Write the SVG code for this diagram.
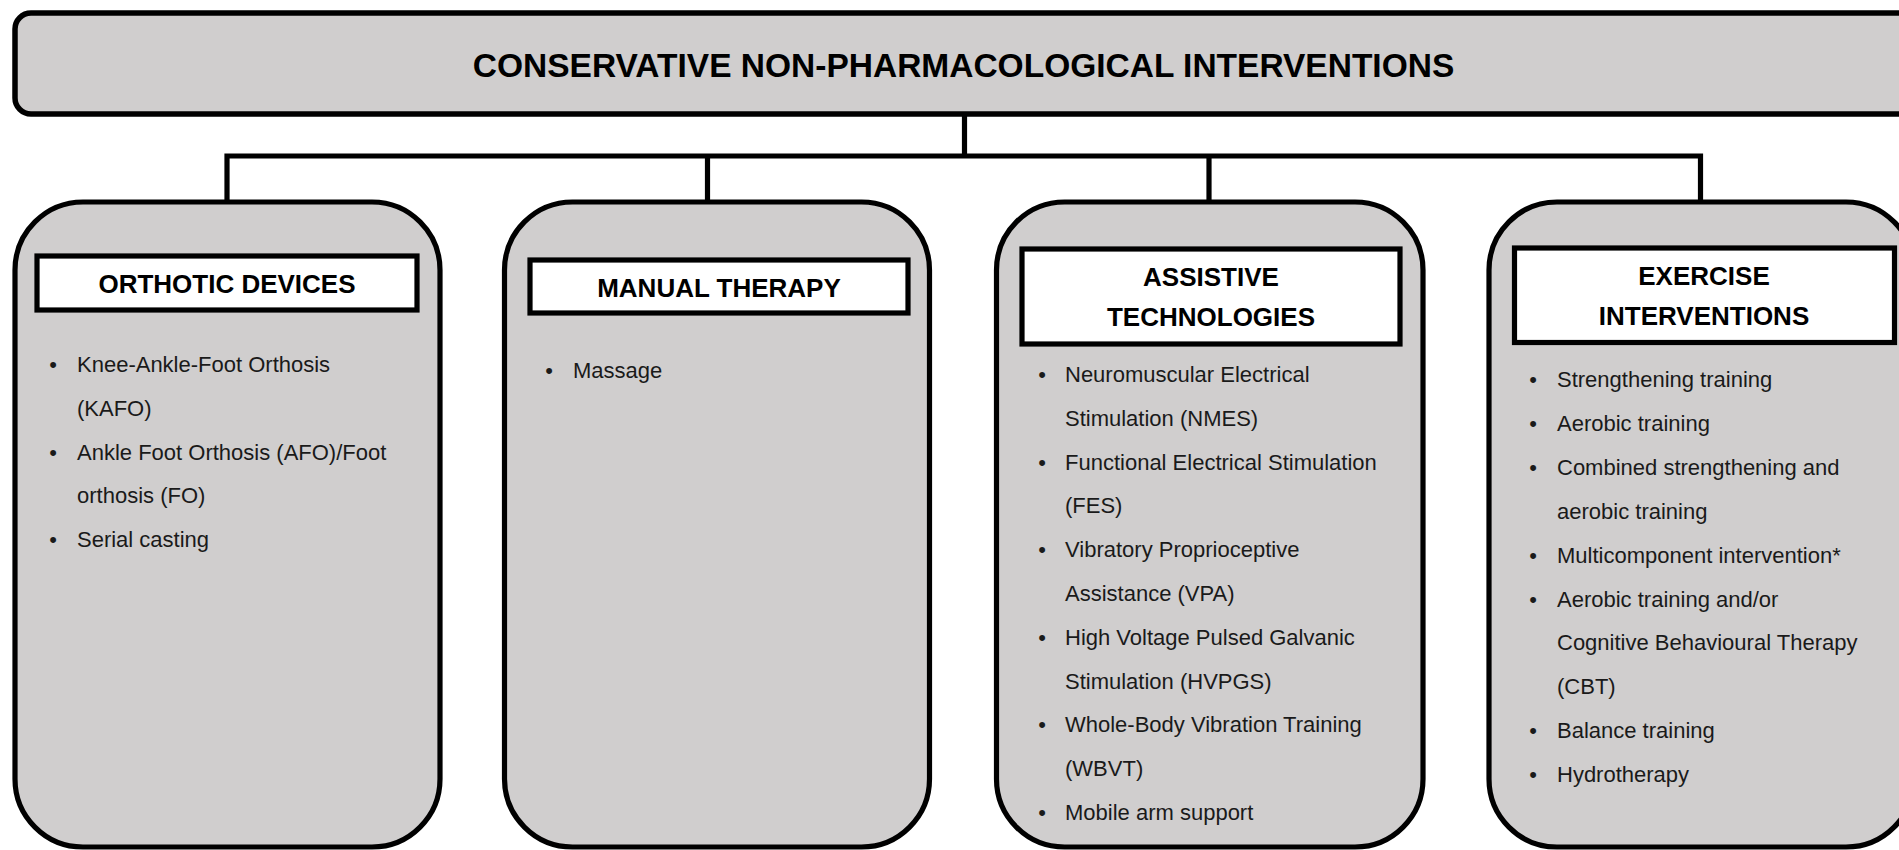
<svg xmlns="http://www.w3.org/2000/svg" width="1899" height="850" viewBox="0 0 1899 850">
<style>
.bg{fill:#ffffff}
.main{fill:#d0cece;stroke:#000;stroke-width:5.5}
.node{fill:#d0cece;stroke:#000;stroke-width:5.2}
.tbox{fill:#ffffff;stroke:#000;stroke-width:5.2}
.conn{fill:none;stroke:#000;stroke-width:5.2;stroke-linejoin:miter}
.h1{font-family:"Liberation Sans",Arial,sans-serif;font-weight:bold;font-size:33.5px;fill:#000;text-anchor:middle}
.h2{font-family:"Liberation Sans",Arial,sans-serif;font-weight:bold;font-size:26px;fill:#000;text-anchor:middle}
.it{font-family:"Liberation Sans",Arial,sans-serif;font-size:22px;fill:#1a1a1a}
.bu{font-family:"Liberation Sans",Arial,sans-serif;font-size:22px;fill:#1a1a1a;text-anchor:middle}
</style>
<rect class="bg" x="0" y="0" width="1899" height="850"/>
<g id="connectors">
<path class="conn" d="M964.5 114 V156"/>
<path class="conn" d="M227 202 V156 H1700.5 V202"/>
<path class="conn" d="M707.5 156 V202"/>
<path class="conn" d="M1209 156 V202"/>
</g>
<g id="root">
<rect class="main" x="15" y="13" width="1900" height="101" rx="16" ry="16"/>
<text class="h1" x="963.5" y="77">CONSERVATIVE NON-PHARMACOLOGICAL INTERVENTIONS</text>
</g>
<g id="orthotic">
<rect class="node" x="15" y="202" width="425" height="645" rx="68" ry="68"/>
<rect class="tbox" x="37" y="256" width="380" height="54"/>
<text class="h2" x="227" y="293">ORTHOTIC DEVICES</text>
<text class="bu" x="53" y="372">•</text><text class="it" x="77" y="372">Knee-Ankle-Foot Orthosis</text>
<text class="it" x="77" y="415.8">(KAFO)</text>
<text class="bu" x="53" y="459.6">•</text><text class="it" x="77" y="459.6">Ankle Foot Orthosis (AFO)/Foot</text>
<text class="it" x="77" y="503.4">orthosis (FO)</text>
<text class="bu" x="53" y="547.2">•</text><text class="it" x="77" y="547.2">Serial casting</text>
</g>
<g id="manual">
<rect class="node" x="504.5" y="202" width="425" height="645" rx="68" ry="68"/>
<rect class="tbox" x="530" y="260" width="378" height="53"/>
<text class="h2" x="719" y="297">MANUAL THERAPY</text>
<text class="bu" x="549" y="378">•</text><text class="it" x="573" y="378">Massage</text>
</g>
<g id="assistive">
<rect class="node" x="996.5" y="202" width="426.5" height="645" rx="68" ry="68"/>
<rect class="tbox" x="1022" y="249" width="378" height="95"/>
<text class="h2" x="1211" y="285.5">ASSISTIVE</text>
<text class="h2" x="1211" y="325.5">TECHNOLOGIES</text>
<text class="bu" x="1042" y="382">•</text><text class="it" x="1065" y="382">Neuromuscular Electrical</text>
<text class="it" x="1065" y="425.8">Stimulation (NMES)</text>
<text class="bu" x="1042" y="469.6">•</text><text class="it" x="1065" y="469.6">Functional Electrical Stimulation</text>
<text class="it" x="1065" y="513.4">(FES)</text>
<text class="bu" x="1042" y="557.2">•</text><text class="it" x="1065" y="557.2">Vibratory Proprioceptive</text>
<text class="it" x="1065" y="601">Assistance (VPA)</text>
<text class="bu" x="1042" y="644.8">•</text><text class="it" x="1065" y="644.8">High Voltage Pulsed Galvanic</text>
<text class="it" x="1065" y="688.6">Stimulation (HVPGS)</text>
<text class="bu" x="1042" y="732.4">•</text><text class="it" x="1065" y="732.4">Whole-Body Vibration Training</text>
<text class="it" x="1065" y="776.2">(WBVT)</text>
<text class="bu" x="1042" y="820">•</text><text class="it" x="1065" y="820">Mobile arm support</text>
</g>
<g id="exercise">
<rect class="node" x="1489" y="202" width="425" height="645" rx="68" ry="68"/>
<rect class="tbox" x="1514.5" y="248" width="380" height="94.5"/>
<text class="h2" x="1704" y="285">EXERCISE</text>
<text class="h2" x="1704" y="325">INTERVENTIONS</text>
<text class="bu" x="1533" y="387">•</text><text class="it" x="1557" y="387">Strengthening training</text>
<text class="bu" x="1533" y="430.9">•</text><text class="it" x="1557" y="430.9">Aerobic training</text>
<text class="bu" x="1533" y="474.8">•</text><text class="it" x="1557" y="474.8">Combined strengthening and</text>
<text class="it" x="1557" y="518.7">aerobic training</text>
<text class="bu" x="1533" y="562.6">•</text><text class="it" x="1557" y="562.6">Multicomponent intervention*</text>
<text class="bu" x="1533" y="606.5">•</text><text class="it" x="1557" y="606.5">Aerobic training and/or</text>
<text class="it" x="1557" y="650.4">Cognitive Behavioural Therapy</text>
<text class="it" x="1557" y="694.3">(CBT)</text>
<text class="bu" x="1533" y="738.2">•</text><text class="it" x="1557" y="738.2">Balance training</text>
<text class="bu" x="1533" y="782.1">•</text><text class="it" x="1557" y="782.1">Hydrotherapy</text>
</g>
</svg>
